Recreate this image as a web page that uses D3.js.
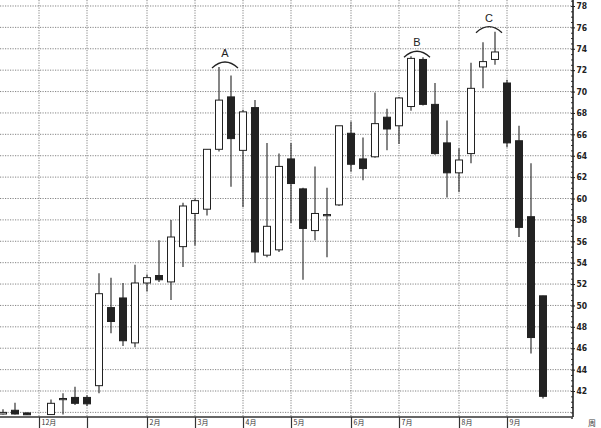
<!DOCTYPE html>
<html>
<head>
<meta charset="utf-8" />
<script src="https://d3js.org/d3.v7.min.js"></script>
<style>
    body { margin: 0; background: #fff; }
    svg { display: block; }
    .grid line { stroke: #666; stroke-width: 0.8; stroke-dasharray: 1.2,1.3; }
    .yaxis text { font-family: "DejaVu Sans Condensed", "DejaVu Sans", sans-serif; font-weight: bold; font-size: 8.5px; fill: #222; }
    .xaxis text { font-family: "Noto Sans CJK SC", sans-serif; font-size: 7px; fill: #333; }
</style>
</head>
<body>
<svg width="601" height="428"></svg>
<script>
    // weekly candles, week index from the left edge (week 3 has no candle)
    var weeks  = [0, 1, 2, 4, 5, 6, 7, 8, 9, 10, 11, 12, 13, 14, 15, 16, 17, 18, 19, 20, 21, 22, 23, 24, 25, 26, 27, 28, 29, 30, 31, 32, 33, 34, 35, 36, 37, 38, 39, 40, 41, 42, 43, 44, 45];
    var opens  = [39.85, 40.2, 39.95, 39.8, 41.3, 41.4, 41.4, 42.5, 49.8, 50.7, 46.5, 52.1, 52.8, 52.2, 55.5, 58.6, 59.0, 64.6, 69.5, 64.5, 68.5, 54.7, 55.2, 63.7, 60.9, 57.0, 58.5, 59.4, 66.1, 63.7, 63.9, 67.6, 66.8, 68.6, 73.0, 68.8, 65.2, 62.4, 64.2, 72.3, 73.0, 70.8, 65.4, 58.3, 50.9];
    var highs  = [40.3, 40.9, 40.0, 41.2, 41.8, 42.4, 41.6, 53.0, 52.6, 52.1, 53.8, 52.9, 56.1, 58.0, 59.6, 60.0, 64.6, 72.3, 71.5, 68.3, 69.2, 65.2, 64.2, 65.2, 61.0, 63.0, 61.0, 66.8, 67.2, 65.7, 69.9, 68.4, 69.5, 73.3, 73.2, 70.8, 67.3, 64.7, 72.7, 74.6, 75.6, 71.1, 66.8, 63.3, 50.9];
    var lows   = [39.8, 39.8, 39.75, 39.75, 39.8, 40.7, 40.6, 41.8, 47.4, 46.2, 46.1, 51.3, 52.2, 50.5, 53.6, 55.6, 58.4, 64.4, 61.1, 59.2, 54.0, 54.5, 55.0, 57.7, 52.4, 56.1, 54.5, 59.3, 62.5, 61.7, 63.8, 64.5, 65.1, 68.2, 68.7, 64.1, 60.1, 60.6, 63.3, 70.3, 72.5, 64.8, 56.4, 45.5, 41.3];
    var closes = [40.0, 39.85, 39.78, 40.85, 41.3, 40.85, 40.8, 51.1, 48.5, 46.7, 52.1, 52.6, 52.4, 56.4, 59.3, 59.8, 64.6, 69.2, 65.6, 68.1, 55.0, 57.4, 63.0, 61.4, 57.2, 58.6, 58.5, 66.8, 63.2, 62.8, 67.0, 66.5, 69.4, 73.1, 68.8, 64.2, 62.4, 63.6, 70.3, 72.8, 73.7, 65.2, 57.3, 47.0, 41.5];

    // month boundaries on the time axis
    var monthWeeks  = [3, 7, 12, 16, 20, 24, 29, 33, 38, 42];
    var monthLabels = ["12月", "", "2月", "3月", "4月", "5月", "6月", "7月", "8月", "9月"];

    // price ticks on the right
    var priceTicks = [42, 44, 46, 48, 50, 52, 54, 56, 58, 60, 62, 64, 66, 68, 70, 72, 74, 76, 78];
    var gridPrices = [40, 42, 44, 46, 48, 50, 52, 54, 56, 58, 60, 62, 64, 66, 68, 70, 72, 74, 76, 78];

    // marked pairs of weeks
    var markLabels = ["A", "B", "C"];
    var markWeeks  = [[18, 19], [34, 35], [40, 41]];

    var svg = d3.select("svg");
    var plotRight = 573, plotBottom = 417;

    var x = d3.scaleLinear().domain([-0.25, 47.5]).range([0, plotRight]);
    var y = d3.scaleLinear().domain([39.57, 78.56]).range([plotBottom, 0]);

    var candles = weeks.map(function(w, i) {
        return { week: w, open: opens[i], high: highs[i], low: lows[i], close: closes[i] };
    });

    // grid
    var grid = svg.append("g").attr("class", "grid");
    grid.selectAll(".h").data(gridPrices).enter().append("line")
        .attr("x1", 0).attr("x2", plotRight)
        .attr("y1", function(d) { return y(d); }).attr("y2", function(d) { return y(d); });
    grid.selectAll(".v").data(monthWeeks).enter().append("line")
        .attr("x1", function(d) { return x(d); }).attr("x2", function(d) { return x(d); })
        .attr("y1", 0).attr("y2", plotBottom);

    // candles
    var bodyW = 7;
    var c = svg.append("g").selectAll("g").data(candles).enter().append("g");
    c.append("line")
        .attr("x1", function(d) { return x(d.week); }).attr("x2", function(d) { return x(d.week); })
        .attr("y1", function(d) { return y(d.high); }).attr("y2", function(d) { return y(d.low); })
        .attr("stroke", "#222").attr("stroke-width", 1.1);
    c.append("rect")
        .attr("x", function(d) { return x(d.week) - bodyW / 2; })
        .attr("width", bodyW)
        .attr("y", function(d) { return y(Math.max(d.open, d.close)); })
        .attr("height", function(d) { return Math.max(1.2, Math.abs(y(d.open) - y(d.close))); })
        .attr("fill", function(d) { return d.close >= d.open ? "#fff" : "#222"; })
        .attr("stroke", "#222").attr("stroke-width", 1);

    // A / B / C arcs over the double tops
    markWeeks.forEach(function(pair, i) {
        var top = d3.max(candles.filter(function(d) { return pair.indexOf(d.week) >= 0; }), function(d) { return d.high; });
        var yt = y(top);
        var x0 = x(pair[0]) - 7, x1 = x(pair[1]) + 7;
        svg.append("path")
            .attr("d", "M" + x0 + "," + (yt + 1) + " Q" + ((x0 + x1) / 2) + "," + (yt - 11) + " " + x1 + "," + (yt + 1))
            .attr("fill", "none").attr("stroke", "#222").attr("stroke-width", 1.3);
        svg.append("text")
            .attr("x", (x0 + x1) / 2).attr("y", yt - 10)
            .attr("text-anchor", "middle")
            .style("font-family", "Liberation Sans, Arial, sans-serif").style("font-size", "11px").style("fill", "#222")
            .text(markLabels[i]);
    });

    // right price axis with minor ticks on the inner side
    var minor = d3.range(39.5, 78.6, 0.5);
    svg.append("g").attr("transform", "translate(" + plotRight + ",0)")
        .call(d3.axisLeft(y).tickValues(minor).tickSize(2).tickFormat(""))
        .call(function(g) { g.selectAll("line").attr("stroke", "#333"); g.select(".domain").remove(); });
    svg.append("g").attr("class", "yaxis").attr("transform", "translate(" + plotRight + ",0)")
        .call(d3.axisRight(y).tickValues(priceTicks).tickSize(2).tickPadding(1.5))
        .call(function(g) {
            g.select(".domain").attr("d", "M0,0V" + plotBottom).attr("stroke", "#222").attr("stroke-width", 1.6);
            g.selectAll("line").attr("stroke", "#222");
        });

    // bottom month axis
    var xa = svg.append("g").attr("class", "xaxis").attr("transform", "translate(0," + plotBottom + ")")
        .call(d3.axisBottom(x).tickValues(monthWeeks).tickSize(11)
            .tickFormat(function(d, i) { return monthLabels[i]; }));
    xa.select(".domain").attr("d", "M0,0H" + plotRight).attr("stroke", "#333").attr("stroke-width", 1.3);
    xa.selectAll("line").attr("stroke", "#333").attr("stroke-width", 1.2);
    xa.selectAll("text").attr("text-anchor", "start").attr("x", 2).attr("y", 3).attr("dy", "0.71em");

    svg.append("text").attr("x", 588).attr("y", 426)
        .style("font-family", "Noto Sans CJK SC, sans-serif").style("font-size", "8px").style("fill", "#444")
        .text("周");
</script>
</body>
</html>
